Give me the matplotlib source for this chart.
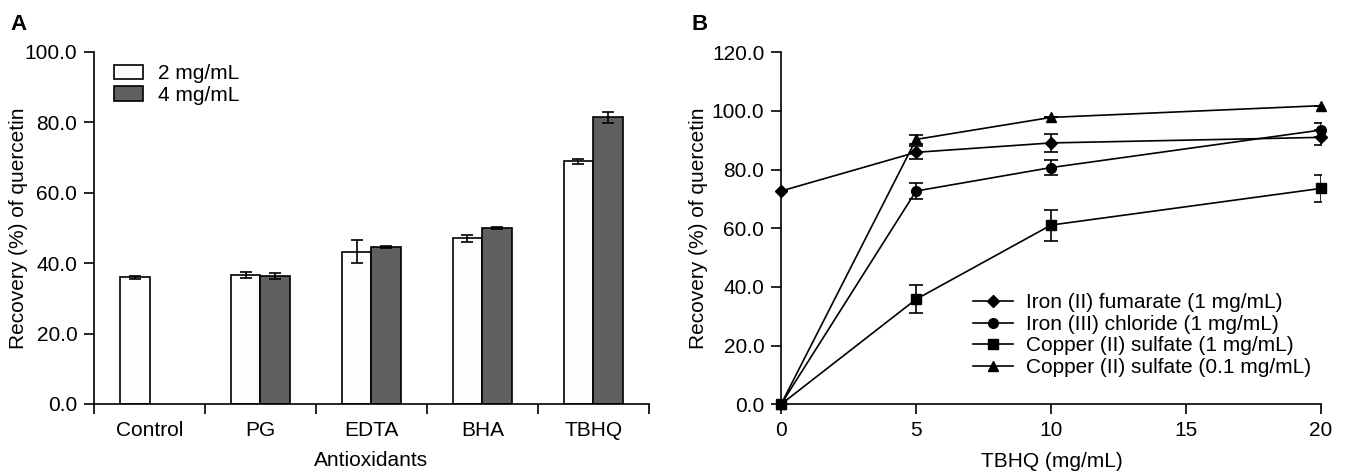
import numpy as np
import matplotlib
matplotlib.use("Agg")
import matplotlib.pyplot as plt

plt.rcParams["font.family"] = ["Liberation Sans", "DejaVu Sans"]
plt.rcParams["font.size"] = 15

# panel A data
antioxidants = ["Control", "PG", "EDTA", "BHA", "TBHQ"]
low_dose = [36.0, 36.6, 43.3, 47.1, 68.9]
low_err = [0.4, 0.8, 3.2, 1.0, 0.6]
high_dose = [np.nan, 36.3, 44.6, 50.0, 81.4]
high_err = [np.nan, 0.8, 0.3, 0.4, 1.6]

# panel B data
tbhq = [0, 5, 10, 20]
fumarate = [72.7, 85.9, 89.1, 91.0]
fumarate_err = [0, 2.2, 3.0, 2.6]
chloride = [0, 72.7, 80.7, 93.5]
chloride_err = [0, 2.6, 2.6, 2.5]
copper_1 = [0, 35.8, 61.1, 73.6]
copper_1_err = [0, 4.8, 5.3, 4.5]
copper_01 = [0, 90.3, 97.8, 101.8]
copper_01_err = [0, 1.4, 0, 0]

fig = plt.figure(figsize=(13.45, 4.71), dpi=100)
axA = fig.add_axes([0.0699, 0.1423, 0.4126, 0.7473])
axB = fig.add_axes([0.5807, 0.1416, 0.4015, 0.7474])

for ax in (axA, axB):
    ax.spines["top"].set_visible(False)
    ax.spines["right"].set_visible(False)
    for s in ("left", "bottom"):
        ax.spines[s].set_linewidth(1.2)
    ax.tick_params(direction="out", length=7, width=1.2, pad=5, labelsize=15)

# ---- panel A
x = np.arange(len(antioxidants))
w = 0.27
axA.bar(x - w / 2, low_dose, w, yerr=low_err, color="#fdfdfd", edgecolor="black",
        linewidth=1.2, capsize=4, error_kw=dict(elinewidth=1.2, capthick=1.2),
        label="2 mg/mL", zorder=2)
axA.bar(x + w / 2, high_dose, w, yerr=high_err, color="#606060", edgecolor="black",
        linewidth=1.2, capsize=4, error_kw=dict(elinewidth=1.2, capthick=1.2),
        label="4 mg/mL", zorder=2)
axA.set_xlim(-0.5, len(antioxidants) - 0.5)
axA.set_ylim(0, 100)
axA.set_yticks(np.arange(0, 101, 20))
axA.set_yticklabels([f"{v:.1f}" for v in np.arange(0, 101, 20)])
axA.set_xticks(np.arange(-0.5, len(antioxidants), 1))
axA.set_xticklabels([])
axA.set_xticks(x, minor=True)
axA.set_xticklabels(antioxidants, minor=True)
axA.tick_params(axis="x", which="minor", length=0, pad=12)
axA.set_ylabel("Recovery (%) of quercetin")
axA.yaxis.set_label_coords(-0.119, 0.5)
axA.set_xlabel("Antioxidants")
axA.xaxis.set_label_coords(0.5, -0.134)
axA.legend(loc="upper left", bbox_to_anchor=(0.036, 0.965), frameon=False,
           borderpad=0, borderaxespad=0, handlelength=1.4, handleheight=0.72,
           handletextpad=0.7, labelspacing=0.12, fontsize=15)
fig.text(0.008, 0.947, "A", fontsize=16, fontweight="bold", va="center")

# ---- panel B
series = [
    (fumarate, fumarate_err, "D", 6, "Iron (II) fumarate (1 mg/mL)"),
    (chloride, chloride_err, "o", 7, "Iron (III) chloride (1 mg/mL)"),
    (copper_1, copper_1_err, "s", 6.5, "Copper (II) sulfate (1 mg/mL)"),
    (copper_01, copper_01_err, "^", 7, "Copper (II) sulfate (0.1 mg/mL)"),
]
for vals, err, mk, ms, lab in series:
    axB.errorbar(tbhq, vals, yerr=err, fmt="none", ecolor="black",
                 elinewidth=1.2, capsize=5, capthick=1.2, zorder=3)
    axB.plot(tbhq, vals, color="black", linewidth=1.2, marker=mk,
             markersize=ms, label=lab, zorder=4, clip_on=False)
axB.set_xlim(0, 20)
axB.set_ylim(0, 120)
axB.set_xticks([0, 5, 10, 15, 20])
axB.set_yticks(np.arange(0, 121, 20))
axB.set_yticklabels([f"{v:.1f}" for v in np.arange(0, 121, 20)])
axB.set_ylabel("Recovery (%) of quercetin")
axB.yaxis.set_label_coords(-0.135, 0.5)
axB.set_xlabel("TBHQ (mg/mL)")
axB.xaxis.set_label_coords(0.502, -0.136)
axB.legend(loc="upper left", bbox_to_anchor=(0.356, 0.315), frameon=False,
           borderpad=0, borderaxespad=0, handlelength=1.9, handletextpad=0.65,
           labelspacing=0.12, fontsize=15)
fig.text(0.514, 0.947, "B", fontsize=16, fontweight="bold", va="center")

fig.savefig("out.png", dpi=100)
